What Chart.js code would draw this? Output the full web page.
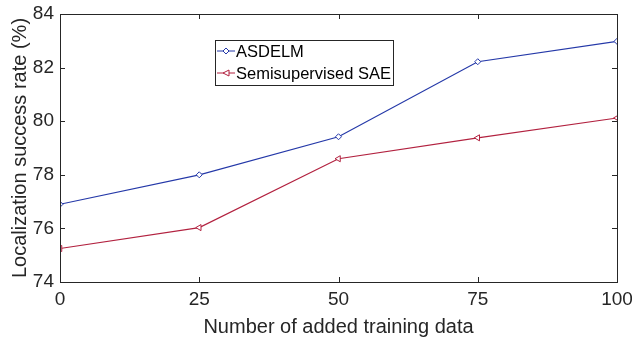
<!DOCTYPE html>
<html>
<head>
<meta charset="utf-8">
<script src="https://cdn.jsdelivr.net/npm/chart.js@4"></script>
<style>
  html, body { margin: 0; padding: 0; background: #fff; }
  #wrap { width: 632px; height: 339px; }
</style>
</head>
<body>
<div id="wrap"><canvas id="chart" width="632" height="339"></canvas></div>
<script>
//// data
const addedData = [0, 25, 50, 75, 100];
const asdelm = [76.9, 78.0, 79.42, 82.22, 82.98];
const semiSAE = [75.25, 76.03, 78.6, 79.38, 80.12];
const seriesNames = ["ASDELM", "Semisupervised SAE"];
const yTicks = [74, 76, 78, 80, 82, 84];

const BLUE = "#2438a8";
const RED = "#b2213f";
const AXIS = "#262626";
const FONT = "'Liberation Sans', Arial, sans-serif";

//box around plot, inward ticks, and legend box (MATLAB look)
const matlabBox = {
    id: "matlabBox",
    afterDraw(chart) {
        const c = chart.ctx;
        const a = chart.chartArea;
        const xs = chart.scales.x, ys = chart.scales.y;
        c.save();
        c.strokeStyle = AXIS;
        c.lineWidth = 1;
        c.strokeRect(a.left + 0.5, a.top + 0.5, a.right - a.left, a.bottom - a.top);
        c.beginPath();
        for (const v of addedData) {
            const px = Math.round(xs.getPixelForValue(v)) + 0.5;
            c.moveTo(px, a.bottom); c.lineTo(px, a.bottom - 5);
            c.moveTo(px, a.top); c.lineTo(px, a.top + 5);
        }
        for (const v of yTicks) {
            const py = Math.round(ys.getPixelForValue(v)) + 0.5;
            c.moveTo(a.left, py); c.lineTo(a.left + 5, py);
            c.moveTo(a.right, py); c.lineTo(a.right - 5, py);
        }
        c.stroke();

        //legend
        const lx = 215, ly = 40, lw = 178, lh = 45;
        c.fillStyle = "#fff";
        c.fillRect(lx, ly, lw, lh);
        c.strokeStyle = AXIS;
        c.strokeRect(lx + 0.5, ly + 0.5, lw, lh);
        const rows = [[seriesNames[0], BLUE, "diamond"], [seriesNames[1], RED, "tri"]];
        c.font = "16.5px " + FONT;
        c.textBaseline = "middle";
        rows.forEach((r, i) => {
            const y = ly + 11 + i * 22;
            c.strokeStyle = r[1];
            c.lineWidth = 1;
            c.beginPath(); c.moveTo(lx + 2, y); c.lineTo(lx + 20, y); c.stroke();
            c.beginPath();
            if (r[2] === "diamond") {
                c.moveTo(lx + 11, y - 3); c.lineTo(lx + 14, y); c.lineTo(lx + 11, y + 3); c.lineTo(lx + 8, y);
            } else {
                c.moveTo(lx + 8, y); c.lineTo(lx + 14, y - 3); c.lineTo(lx + 14, y + 3);
            }
            c.closePath();
            c.fillStyle = "#fff"; c.fill(); c.stroke();
            c.fillStyle = "#000";
            c.fillText(r[0], lx + 21, y + 1);
        });
        c.restore();
    }
};

const ctx = document.getElementById("chart").getContext("2d");
const chart = new Chart(ctx, {
    type: "line",
    data: {
        labels: addedData,
        datasets: [{
            label: seriesNames[0],
            data: addedData.map((x, i) => ({ x: x, y: asdelm[i] })),
            borderColor: BLUE,
            backgroundColor: "#fff",
            borderWidth: 1.2,
            pointStyle: "rectRot",
            pointRadius: 3,
            pointBorderWidth: 1,
            tension: 0
        }, {
            label: seriesNames[1],
            data: addedData.map((x, i) => ({ x: x, y: semiSAE[i] })),
            borderColor: RED,
            backgroundColor: "#fff",
            borderWidth: 1.2,
            pointStyle: "triangle",
            rotation: -90,
            pointRadius: 3.5,
            pointBorderWidth: 1,
            tension: 0
        }]
    },
    options: {
        responsive: false,
        animation: false,
        layout: { padding: { top: 14, right: 0, left: 8, bottom: 0 } },
        plugins: { legend: { display: false }, tooltip: { enabled: false } },
        scales: {
            x: {
                type: "linear",
                min: 0, max: 100,
                grid: { display: false, drawTicks: false },
                border: { display: false },
                ticks: { stepSize: 25, color: AXIS, font: { family: FONT, size: 19 }, padding: 6, maxRotation: 0 },
                title: { display: true, text: "Number of added training data", color: AXIS, font: { family: FONT, size: 20 }, padding: { top: 1, bottom: 0 } },
                afterFit(s) { s.height = 57; s.paddingRight = 15; s.paddingLeft = 0; }
            },
            y: {
                min: 74, max: 84,
                grid: { display: false, drawTicks: false },
                border: { display: false },
                ticks: { stepSize: 2, color: AXIS, font: { family: FONT, size: 19 }, padding: 6 },
                title: { display: true, text: "Localization success rate (%)", color: AXIS, font: { family: FONT, size: 20 }, padding: { top: 0, bottom: 0 } },
                afterFit(s) { s.width = 52; s.paddingTop = 0; s.paddingBottom = 0; }
            }
        }
    },
    plugins: [matlabBox]
});
</script>
</body>
</html>
